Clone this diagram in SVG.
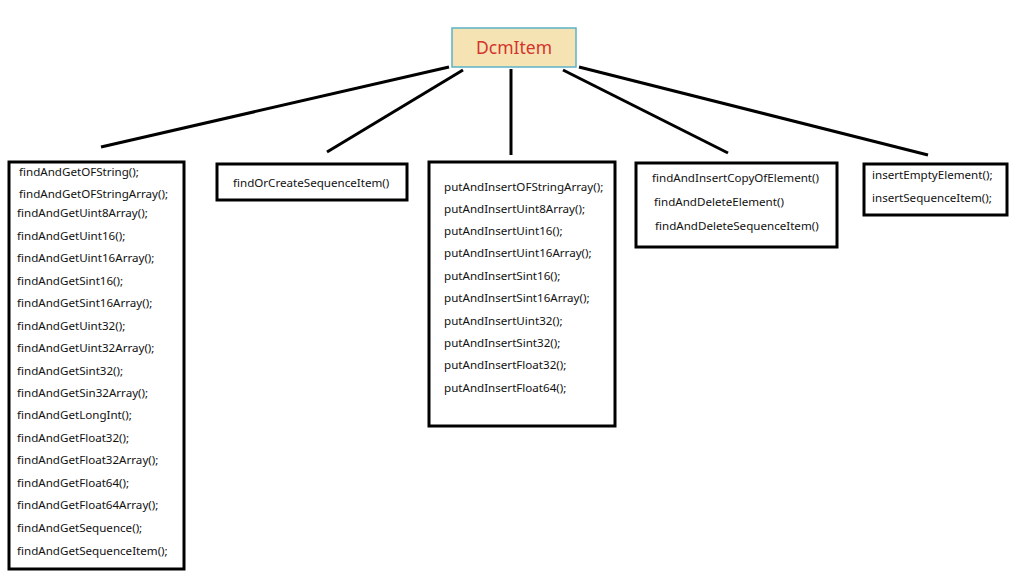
<svg xmlns="http://www.w3.org/2000/svg" width="1024" height="583" viewBox="0 0 1024 583">
<style>
.box{fill:#fff;stroke:#000;stroke-width:3}
.t{font-family:"Noto Sans","Open Sans",sans-serif;font-size:11.6px;fill:#111}
.root{fill:#F5E3B4;stroke:#5BB3C8;stroke-width:1.5}
.rt{font-family:"Noto Sans","Open Sans",sans-serif;font-size:17.5px;fill:#D3342C;text-anchor:middle}
.c{stroke:#000;stroke-width:3;fill:none}
</style>
<rect width="1024" height="583" fill="#fff"/>
<g id="connectors">
<line class="c" x1="449" y1="67" x2="101" y2="147"/>
<line class="c" x1="463" y1="70" x2="327" y2="152"/>
<line class="c" x1="511" y1="69" x2="511" y2="155"/>
<line class="c" x1="563" y1="70" x2="728" y2="153"/>
<line class="c" x1="579" y1="67" x2="928" y2="155"/>
</g>
<g id="root">
<rect class="root" x="452" y="28" width="124" height="39"/>
<text class="rt" x="514" y="54">DcmItem</text>
</g>
<g id="findAndGet">
<rect class="box" x="9" y="162" width="175" height="407"/>
<text class="t" x="19" y="176">findAndGetOFString();</text>
<text class="t" x="19" y="198">findAndGetOFStringArray();</text>
<text class="t" x="17" y="217">findAndGetUint8Array();</text>
<text class="t" x="17" y="240">findAndGetUint16();</text>
<text class="t" x="17" y="262">findAndGetUint16Array();</text>
<text class="t" x="17" y="285">findAndGetSint16();</text>
<text class="t" x="17" y="307">findAndGetSint16Array();</text>
<text class="t" x="17" y="330">findAndGetUint32();</text>
<text class="t" x="17" y="352">findAndGetUint32Array();</text>
<text class="t" x="17" y="375">findAndGetSint32();</text>
<text class="t" x="17" y="397">findAndGetSin32Array();</text>
<text class="t" x="17" y="419">findAndGetLongInt();</text>
<text class="t" x="17" y="442">findAndGetFloat32();</text>
<text class="t" x="17" y="464">findAndGetFloat32Array();</text>
<text class="t" x="17" y="487">findAndGetFloat64();</text>
<text class="t" x="17" y="509">findAndGetFloat64Array();</text>
<text class="t" x="17" y="532">findAndGetSequence();</text>
<text class="t" x="17" y="555">findAndGetSequenceItem();</text>
</g>
<g id="findOrCreate">
<rect class="box" x="217" y="164" width="190" height="36"/>
<text class="t" x="233" y="187">findOrCreateSequenceItem()</text>
</g>
<g id="putAndInsert">
<rect class="box" x="429" y="162" width="186" height="264"/>
<text class="t" x="444" y="191">putAndInsertOFStringArray();</text>
<text class="t" x="444" y="213">putAndInsertUint8Array();</text>
<text class="t" x="444" y="235">putAndInsertUint16();</text>
<text class="t" x="444" y="257">putAndInsertUint16Array();</text>
<text class="t" x="444" y="280">putAndInsertSint16();</text>
<text class="t" x="444" y="302">putAndInsertSint16Array();</text>
<text class="t" x="444" y="325">putAndInsertUint32();</text>
<text class="t" x="444" y="347">putAndInsertSint32();</text>
<text class="t" x="444" y="369">putAndInsertFloat32();</text>
<text class="t" x="444" y="392">putAndInsertFloat64();</text>
</g>
<g id="findAndInsertDelete">
<rect class="box" x="636" y="163" width="201" height="84"/>
<text class="t" x="652" y="182">findAndInsertCopyOfElement()</text>
<text class="t" x="654" y="206">findAndDeleteElement()</text>
<text class="t" x="655" y="230">findAndDeleteSequenceItem()</text>
</g>
<g id="insert">
<rect class="box" x="864" y="164" width="143" height="51"/>
<text class="t" x="872" y="179">insertEmptyElement();</text>
<text class="t" x="872" y="202">insertSequenceItem();</text>
</g>
</svg>
